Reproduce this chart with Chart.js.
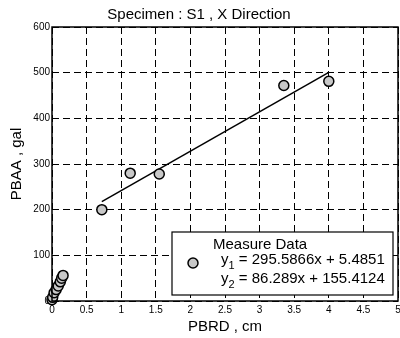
<!DOCTYPE html>
<html>
<head>
<meta charset="utf-8">
<script src="https://cdn.jsdelivr.net/npm/chart.js@4/dist/chart.umd.min.js"></script>
<style>
  html, body { margin: 0; padding: 0; background: #fff; }
  #wrap { width: 400px; height: 338px; }
</style>
</head>
<body>
<div id="wrap"><canvas id="chart" width="400" height="338"></canvas></div>
<script>
// measured points (PBRD in cm, PBAA in gal)
const pbrd = [0.00, 0.01, 0.03, 0.06, 0.09, 0.12, 0.14, 0.16, 0.72, 1.13, 1.55, 3.35, 4.00];
const pbaa = [3, 8, 18, 25, 33, 42, 50, 56, 200, 280, 278, 472, 481];

// fitted lines y = a*x + b, drawn over their x range
const fitSlope = [295.5866, 86.289];
const fitIntercept = [5.4851, 155.4124];
const fitFrom = [0.0, 0.72];
const fitTo = [0.16, 4.0];
const fitLabels = ["295.5866x + 5.4851", "86.289x + 155.4124"];

const xTicks = [0, 0.5, 1, 1.5, 2, 2.5, 3, 3.5, 4, 4.5, 5];
const yTicks = [0, 100, 200, 300, 400, 500, 600];

const FONT = "Arial, 'Liberation Sans', sans-serif";

const fitLines = fitSlope.map((a, i) => ({
  type: "line",
  data: [
    { x: fitFrom[i], y: a * fitFrom[i] + fitIntercept[i] },
    { x: fitTo[i], y: a * fitTo[i] + fitIntercept[i] },
  ],
  borderColor: "#000",
  borderWidth: 1.5,
  pointRadius: 0,
  fill: false,
}));

// box frame + legend, drawn on top
const frameAndLegend = {
  id: "frameAndLegend",
  afterDraw(chart) {
    const { ctx, chartArea: ca } = chart;
    ctx.save();
    ctx.strokeStyle = "#000";
    ctx.lineWidth = 1.5;
    ctx.setLineDash([]);
    ctx.strokeRect(ca.left, ca.top, ca.right - ca.left, ca.bottom - ca.top);

    // legend box
    const bx = ca.left + 120, by = ca.top + 205;
    const bw = ca.right - 5 - bx, bh = ca.bottom - 6 - by;
    ctx.fillStyle = "#fff";
    ctx.fillRect(bx, by, bw, bh);
    ctx.lineWidth = 1.2;
    ctx.strokeRect(bx, by, bw, bh);

    ctx.beginPath();
    ctx.arc(bx + 21, by + 31, 5, 0, Math.PI * 2);
    ctx.fillStyle = "#c8c8c8";
    ctx.fill();
    ctx.lineWidth = 1.5;
    ctx.stroke();

    ctx.fillStyle = "#000";
    ctx.textBaseline = "alphabetic";
    ctx.textAlign = "left";
    ctx.font = "15px " + FONT;
    ctx.fillText("Measure Data", bx + 41, by + 17);
    fitLabels.forEach((lbl, i) => {
      const base = by + 32 + i * 19;
      let x = bx + 49;
      ctx.font = "15px " + FONT;
      ctx.fillText("y", x, base);
      x += ctx.measureText("y").width;
      ctx.font = "11px " + FONT;
      ctx.fillText(String(i + 1), x, base + 5);
      x += ctx.measureText(String(i + 1)).width;
      ctx.font = "15px " + FONT;
      ctx.fillText(" = " + lbl, x, base);
    });
    ctx.restore();
  },
};

new Chart(document.getElementById("chart"), {
  type: "scatter",
  data: {
    datasets: [
      {
        label: "Measure Data",
        data: pbrd.map((x, i) => ({ x, y: pbaa[i] })),
        backgroundColor: "#c8c8c8",
        borderColor: "#000",
        borderWidth: 1.5,
        pointRadius: 5,
        pointHoverRadius: 5,
        clip: false,
      },
      ...fitLines,
    ],
  },
  options: {
    responsive: false,
    animation: false,
    events: [],
    layout: { autoPadding: false, padding: { left: 0, right: 2, top: 0, bottom: 0 } },
    plugins: {
      legend: { display: false },
      tooltip: { enabled: false },
      title: {
        display: true,
        text: "Specimen : S1 , X Direction",
        color: "#000",
        font: { family: FONT, size: 15, weight: "normal", lineHeight: 1.2 },
        padding: { top: 6, bottom: 3 },
      },
    },
    scales: {
      x: {
        type: "linear",
        min: 0,
        max: 5,
        afterBuildTicks: (s) => { s.ticks = xTicks.map((v) => ({ value: v })); },
        afterFit: (s) => { s.height = 37; s.paddingLeft = 0; s.paddingRight = 0; },
        ticks: {
          color: "#000",
          font: { family: FONT, size: 10 },
          padding: 3,
          maxRotation: 0,
          autoSkip: false,
          callback: (v) => String(v),
        },
        grid: { color: "#000", lineWidth: 1, drawTicks: false },
        border: { display: false, dash: [7, 4] },
        title: {
          display: true,
          text: "PBRD , cm",
          color: "#000",
          font: { family: FONT, size: 15 },
          padding: { top: 0, bottom: 2 },
        },
      },
      y: {
        type: "linear",
        min: 0,
        max: 600,
        afterBuildTicks: (s) => { s.ticks = yTicks.map((v) => ({ value: v })); },
        afterFit: (s) => { s.width = 52; s.paddingTop = 0; s.paddingBottom = 0; },
        ticks: {
          color: "#000",
          font: { family: FONT, size: 10 },
          padding: 2,
          autoSkip: false,
        },
        grid: { color: "#000", lineWidth: 1, drawTicks: false },
        border: { display: false, dash: [7, 4] },
        title: {
          display: true,
          text: "PBAA , gal",
          color: "#000",
          font: { family: FONT, size: 15 },
          padding: { top: 8, bottom: 2 },
        },
      },
    },
  },
  plugins: [frameAndLegend],
});
</script>
</body>
</html>
